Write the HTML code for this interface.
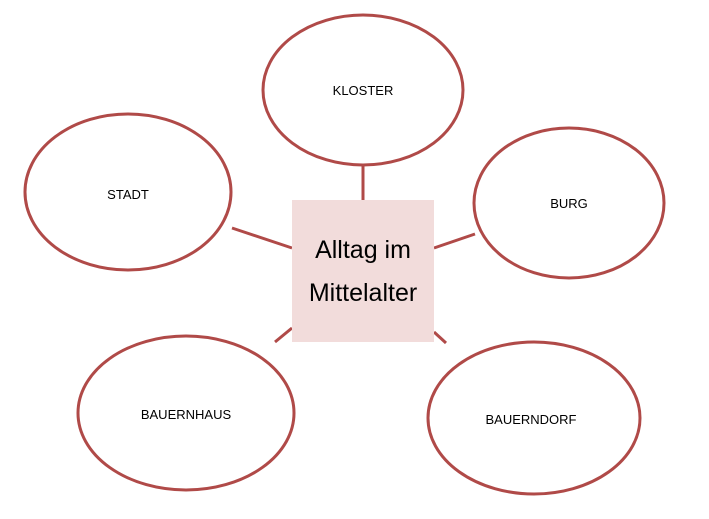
<!DOCTYPE html>
<html><head><meta charset="utf-8"><style>
html,body{margin:0;padding:0;background:#fff;}
svg{display:block;}
text{font-family:"Liberation Sans",sans-serif;fill:#000;}
</style></head><body>
<svg width="709" height="519" viewBox="0 0 709 519" xmlns="http://www.w3.org/2000/svg">
<g stroke="#b04a48" stroke-width="3" fill="none">
<line x1="363" y1="165" x2="363" y2="200"/>
<line x1="232" y1="228" x2="292" y2="248"/>
<line x1="434" y1="248" x2="475" y2="234"/>
<line x1="275" y1="342" x2="292" y2="328"/>
<line x1="434" y1="332" x2="446" y2="343"/>
<ellipse cx="363" cy="90" rx="100" ry="75"/>
<ellipse cx="128" cy="192" rx="103" ry="78"/>
<ellipse cx="569" cy="203" rx="95" ry="75"/>
<ellipse cx="186" cy="413" rx="108" ry="77"/>
<ellipse cx="534" cy="418" rx="106" ry="76"/>
</g>
<rect x="292" y="200" width="142" height="142" fill="#f2dcdb"/>
<text x="363" y="258" font-size="25" text-anchor="middle">Alltag im</text>
<text x="363" y="301" font-size="25" text-anchor="middle">Mittelalter</text>
<g font-size="13" text-anchor="middle">
<text x="363" y="95">KLOSTER</text>
<text x="128" y="199">STADT</text>
<text x="569" y="208">BURG</text>
<text x="186" y="419">BAUERNHAUS</text>
<text x="531" y="424">BAUERNDORF</text>
</g>
</svg>
</body></html>
